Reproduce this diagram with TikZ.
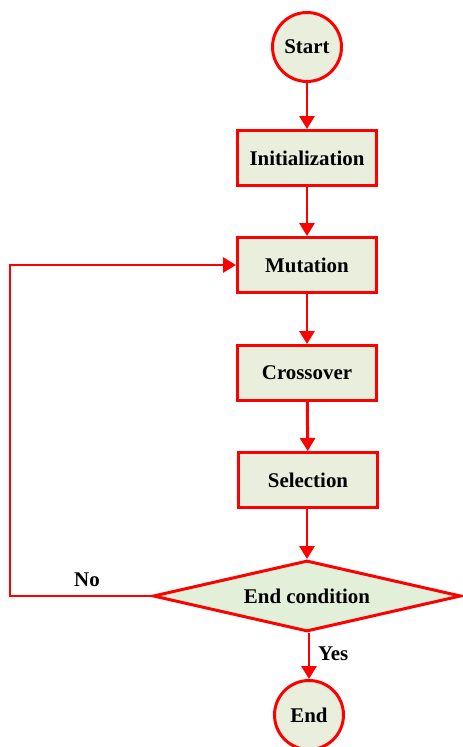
\documentclass[tikz,border=0pt]{standalone}
\usepackage{fontspec}
\setmainfont{Liberation Serif}
\usetikzlibrary{shapes.geometric,arrows.meta}

\definecolor{boxfill}{RGB}{233,239,220}
\definecolor{condfill}{RGB}{226,239,217}

\begin{document}
\begin{tikzpicture}[
    x=0.02cm, y=0.02cm,
    every node/.style={font=\fontsize{11.9}{14}\selectfont\bfseries},
    terminal/.style={circle, draw=red, line width=1.7pt, fill=boxfill, minimum size=1.38cm, inner sep=0pt},
    stepbox/.style={rectangle, draw=red, line width=1.7pt, fill=boxfill, minimum width=2.78cm, minimum height=1.1cm},
    decision/.style={diamond, draw=red, line width=1.7pt, fill=condfill, aspect=4.26, minimum width=6.16cm, minimum height=1.42cm, inner sep=0pt},
    flow/.style={draw=red, line width=1.7pt, -{Triangle[length=2.6mm, width=3mm]}},
]

% Frame
\useasboundingbox (0,0) rectangle (463,747);

% Nodes
\node[terminal] (start) at (307,700) {Start};
\node[stepbox]  (init)  at (307,589) {Initialization};
\node[stepbox]  (mut)   at (307,482) {Mutation};
\node[stepbox]  (cross) at (307,374) {Crossover};
\node[stepbox]  (sel)   at (308,267) {Selection};
\node[decision] (cond)  at (307,151) {End condition};
\node[terminal] (stop)  at (309,32)  {End};

% Main flow
\draw[flow] (start) -- (init);
\draw[flow] (init) -- (mut);
\draw[flow] (mut) -- (cross);
\draw[flow] (cross) -- (sel);
\draw[flow] (sel.south -| cond.north) -- (cond);
\draw[flow] (cond.south -| stop.north) -- (stop) node[pos=0.45, right, xshift=1pt] (yes) {Yes};

% Loop back
\coordinate (back) at (10,151);
\draw[flow] (cond.west) -- (back) |- (mut.west);
\node (no) at (87,167) {No};

\end{tikzpicture}
\end{document}
